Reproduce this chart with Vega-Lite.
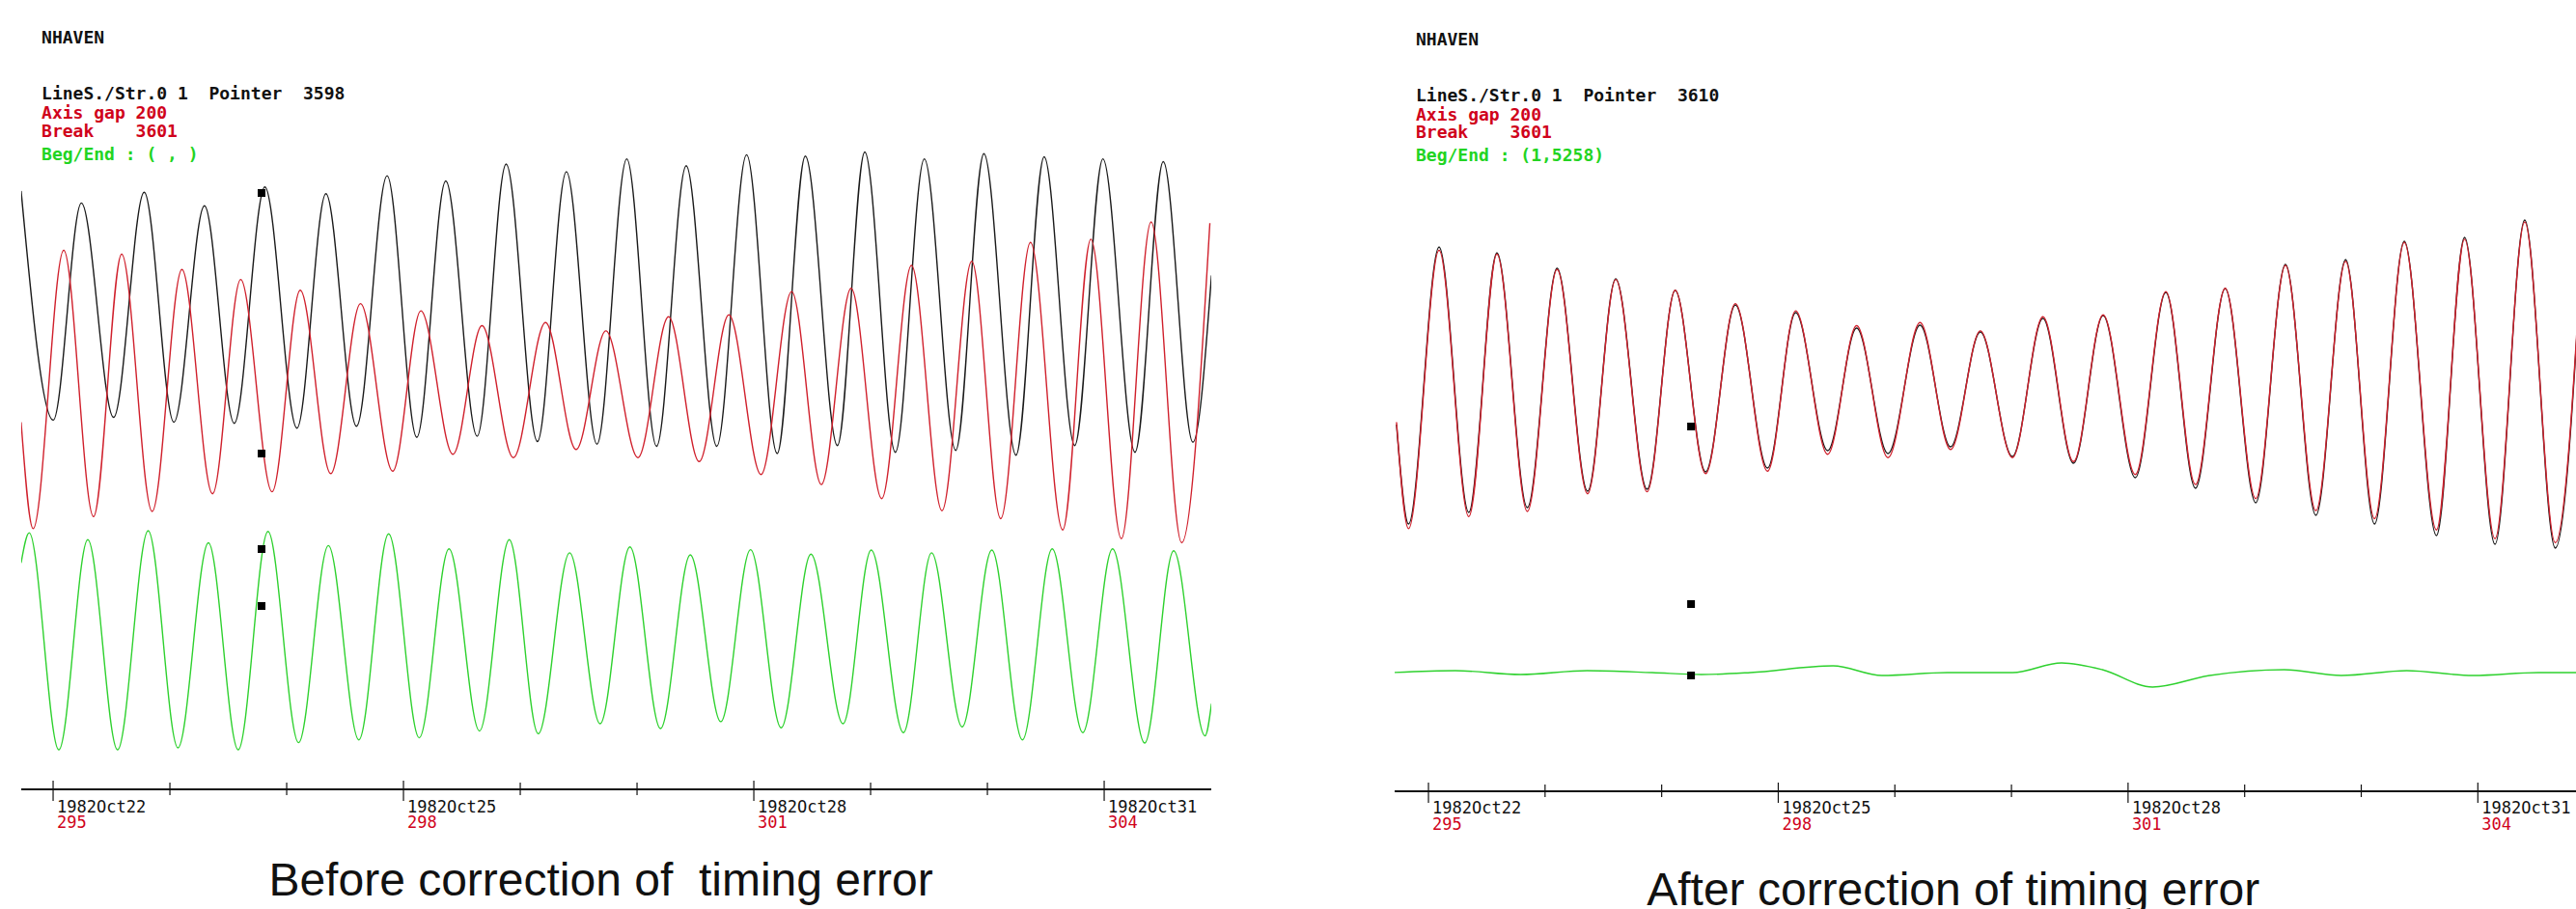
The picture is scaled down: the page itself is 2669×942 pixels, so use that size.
{
  "$schema": "https://vega.github.io/schema/vega-lite/v6.json",
  "padding": {"left": 21, "top": 0, "right": 0, "bottom": 0},
  "bounds": "flush",
  "spacing": 190,
  "background": "white",
  "config": {"view": {"stroke": null}},
  "datasets": {
    "pred": [
      {"d":294.726,"v":62.5},{"d":294.829,"v":-47.9},{"d":295.091,"v":240.8},{"d":295.346,"v":-35.4},{"d":295.587,"v":236.7},{"d":295.848,"v":-30},{"d":296.103,"v":220.8},{"d":296.365,"v":-11.7},{"d":296.606,"v":210.4},{"d":296.875,"v":-9.6},{"d":297.116,"v":199.2},{"d":297.377,"v":9.2},{"d":297.632,"v":185.4},{"d":297.908,"v":11.7},{"d":298.149,"v":177.9},{"d":298.424,"v":29.2},{"d":298.672,"v":162.5},{"d":298.941,"v":25.8},{"d":299.216,"v":165.8},{"d":299.478,"v":34.2},{"d":299.733,"v":157.1},{"d":300.008,"v":25.8},{"d":300.270,"v":171.7},{"d":300.532,"v":21.7},{"d":300.786,"v":173.8},{"d":301.062,"v":8.3},{"d":301.324,"v":197.9},{"d":301.578,"v":-2.1},{"d":301.833,"v":201.3},{"d":302.095,"v":-16.7},{"d":302.350,"v":225},{"d":302.611,"v":-29.2},{"d":302.866,"v":229.2},{"d":303.114,"v":-37.5},{"d":303.369,"v":248.8},{"d":303.645,"v":-49.2},{"d":303.886,"v":252.1},{"d":304.147,"v":-58.3},{"d":304.402,"v":270},{"d":304.664,"v":-62.5},{"d":304.905,"v":268.8}
    ],
    "obsL": [
      {"d":294.726,"v":302.1},{"d":295.001,"v":64.6},{"d":295.242,"v":289.6},{"d":295.518,"v":67.5},{"d":295.780,"v":300.8},{"d":296.034,"v":62.5},{"d":296.296,"v":286.7},{"d":296.551,"v":61.3},{"d":296.813,"v":306.3},{"d":297.088,"v":56.3},{"d":297.336,"v":299.2},{"d":297.598,"v":58.3},{"d":297.860,"v":317.9},{"d":298.114,"v":46.7},{"d":298.362,"v":312.5},{"d":298.631,"v":47.9},{"d":298.879,"v":330},{"d":299.147,"v":42.5},{"d":299.395,"v":322.1},{"d":299.657,"v":39.6},{"d":299.912,"v":335.4},{"d":300.167,"v":37.5},{"d":300.421,"v":328.3},{"d":300.683,"v":37.5},{"d":300.938,"v":339.6},{"d":301.200,"v":30},{"d":301.441,"v":338.3},{"d":301.716,"v":38.3},{"d":301.950,"v":342.5},{"d":302.212,"v":31.3},{"d":302.460,"v":335.4},{"d":302.729,"v":33.3},{"d":302.970,"v":340.8},{"d":303.245,"v":28.3},{"d":303.486,"v":337.5},{"d":303.748,"v":38.3},{"d":303.989,"v":335.4},{"d":304.264,"v":31.3},{"d":304.506,"v":332.5},{"d":304.760,"v":41.7},{"d":304.919,"v":214.6}
    ],
    "resL": [
      {"d":294.726,"v":-83.3},{"d":294.795,"v":-52.1},{"d":295.049,"v":-277.1},{"d":295.297,"v":-59.2},{"d":295.552,"v":-277.1},{"d":295.814,"v":-50},{"d":296.069,"v":-275},{"d":296.330,"v":-62.5},{"d":296.585,"v":-277.1},{"d":296.840,"v":-50.8},{"d":297.102,"v":-269.6},{"d":297.357,"v":-65.4},{"d":297.618,"v":-266.7},{"d":297.873,"v":-53.3},{"d":298.135,"v":-264.6},{"d":298.390,"v":-68.8},{"d":298.651,"v":-257.5},{"d":298.906,"v":-59.2},{"d":299.154,"v":-260.4},{"d":299.423,"v":-72.9},{"d":299.684,"v":-250},{"d":299.939,"v":-66.7},{"d":300.201,"v":-255},{"d":300.456,"v":-75},{"d":300.717,"v":-247.9},{"d":300.972,"v":-69.6},{"d":301.234,"v":-254.2},{"d":301.489,"v":-74.2},{"d":301.764,"v":-250},{"d":302.005,"v":-70},{"d":302.281,"v":-259.2},{"d":302.522,"v":-72.9},{"d":302.784,"v":-253.3},{"d":303.038,"v":-70},{"d":303.300,"v":-266.7},{"d":303.555,"v":-68.8},{"d":303.817,"v":-259.2},{"d":304.072,"v":-68.8},{"d":304.347,"v":-270},{"d":304.595,"v":-70.8},{"d":304.864,"v":-262.5},{"d":304.919,"v":-229.2}
    ],
    "obsR": [
      {"d":294.726,"v":60},{"d":294.829,"v":-43},{"d":295.091,"v":244},{"d":295.346,"v":-31},{"d":295.587,"v":238},{"d":295.848,"v":-26},{"d":296.103,"v":222},{"d":296.365,"v":-9},{"d":296.606,"v":211},{"d":296.875,"v":-7},{"d":297.116,"v":199},{"d":297.377,"v":11},{"d":297.632,"v":184},{"d":297.908,"v":15},{"d":298.149,"v":176},{"d":298.424,"v":33},{"d":298.672,"v":160},{"d":298.941,"v":30},{"d":299.216,"v":163},{"d":299.478,"v":37},{"d":299.733,"v":156},{"d":300.008,"v":27},{"d":300.270,"v":170},{"d":300.532,"v":20},{"d":300.786,"v":173},{"d":301.062,"v":5},{"d":301.324,"v":197},{"d":301.578,"v":-6},{"d":301.833,"v":201},{"d":302.095,"v":-21},{"d":302.350,"v":226},{"d":302.611,"v":-34},{"d":302.866,"v":231},{"d":303.114,"v":-43},{"d":303.369,"v":250},{"d":303.645,"v":-55},{"d":303.886,"v":254},{"d":304.147,"v":-64},{"d":304.402,"v":272},{"d":304.664,"v":-68},{"d":304.905,"v":266}
    ],
    "resR": [
      {"d":294.69,"v":-197},{"d":295.23,"v":-195},{"d":295.79,"v":-199},{"d":296.36,"v":-195},{"d":296.92,"v":-197},{"d":297.34,"v":-199},{"d":297.76,"v":-197},{"d":298.47,"v":-190},{"d":298.89,"v":-200},{"d":299.45,"v":-197},{"d":300.01,"v":-197},{"d":300.43,"v":-187},{"d":300.78,"v":-194},{"d":301.21,"v":-212},{"d":301.70,"v":-200},{"d":302.34,"v":-194},{"d":302.83,"v":-200},{"d":303.39,"v":-195},{"d":303.96,"v":-200},{"d":304.52,"v":-197},{"d":304.85,"v":-197}
    ],
    "sqL": [{"d":296.785,"v":300},{"d":296.785,"v":30},{"d":296.785,"v":-69},{"d":296.785,"v":-128}],
    "sqR": [{"d":297.252,"v":58},{"d":297.252,"v":-126},{"d":297.252,"v":-200}],
    "ticks": [{"day":295,"major":1},{"day":296,"major":0},{"day":297,"major":0},{"day":298,"major":1},{"day":299,"major":0},{"day":300,"major":0},{"day":301,"major":1},{"day":302,"major":0},{"day":303,"major":0},{"day":304,"major":1}],
    "labels": [{"day":295,"date":"1982Oct22","doy":"295"},{"day":298,"date":"1982Oct25","doy":"298"},{"day":301,"date":"1982Oct28","doy":"301"},{"day":304,"date":"1982Oct31","doy":"304"}]
  },
  "hconcat": [
    {
      "width": 1233, "height": 942,
      "layer": [
        {"data": {"name": "obsL"}, "mark": {"type": "line", "color": "#1a1a1a", "strokeWidth": 1.4, "interpolate": "monotone", "clip": true},
         "encoding": {"x": {"field": "d", "type": "quantitative", "scale": {"domain": [294.727, 304.917], "nice": false, "zero": false}, "axis": null},
                      "y": {"field": "v", "type": "quantitative", "scale": {"domain": [-442, 500], "nice": false, "zero": false}, "axis": null}}},
        {"data": {"name": "pred"}, "mark": {"type": "line", "color": "#d0202c", "strokeWidth": 1.4, "interpolate": "monotone", "clip": true},
         "encoding": {"x": {"field": "d", "type": "quantitative"}, "y": {"field": "v", "type": "quantitative"}}},
        {"data": {"name": "resL"}, "mark": {"type": "line", "color": "#2ed12e", "strokeWidth": 1.4, "interpolate": "monotone", "clip": true},
         "encoding": {"x": {"field": "d", "type": "quantitative"}, "y": {"field": "v", "type": "quantitative"}}},
        {"data": {"name": "sqL"}, "mark": {"type": "point", "shape": "square", "filled": true, "size": 64, "color": "#000", "opacity": 1},
         "encoding": {"x": {"field": "d", "type": "quantitative"}, "y": {"field": "v", "type": "quantitative"}}},
        {"data": {"values": [{}]}, "mark": {"type": "rule", "color": "#111", "strokeWidth": 2},
         "encoding": {"x": {"datum": 294.727}, "x2": {"datum": 304.917}, "y": {"datum": -318}}},
        {"data": {"name": "ticks"}, "transform": [{"filter": "datum.major == 1"}], "mark": {"type": "rule", "color": "#111", "strokeWidth": 1.2},
         "encoding": {"x": {"field": "day", "type": "quantitative"}, "y": {"datum": -309}, "y2": {"datum": -330}}},
        {"data": {"name": "ticks"}, "transform": [{"filter": "datum.major == 0"}], "mark": {"type": "rule", "color": "#111", "strokeWidth": 1.2},
         "encoding": {"x": {"field": "day", "type": "quantitative"}, "y": {"datum": -311}, "y2": {"datum": -324}}},
        {"data": {"name": "labels"}, "mark": {"type": "text", "align": "left", "baseline": "alphabetic", "dx": 4, "font": "DejaVu Sans Mono", "fontSize": 17, "color": "#111"},
         "encoding": {"x": {"field": "day", "type": "quantitative"}, "y": {"datum": -342}, "text": {"field": "date"}}},
        {"data": {"name": "labels"}, "mark": {"type": "text", "align": "left", "baseline": "alphabetic", "dx": 4, "font": "DejaVu Sans Mono", "fontSize": 17, "color": "#d0021b"},
         "encoding": {"x": {"field": "day", "type": "quantitative"}, "y": {"datum": -358}, "text": {"field": "doy"}}},
        {"data": {"values": [{"t": "NHAVEN"}]}, "mark": {"type": "text", "align": "left", "baseline": "alphabetic", "font": "DejaVu Sans Mono", "fontWeight": "bold", "fontSize": 18, "color": "#111"},
         "encoding": {"x": {"datum": 294.901}, "y": {"datum": 455}, "text": {"field": "t"}}},
        {"data": {"values": [{"t": "LineS./Str.0 1\u00a0\u00a0Pointer\u00a0\u00a03598"}]}, "mark": {"type": "text", "align": "left", "baseline": "alphabetic", "font": "DejaVu Sans Mono", "fontWeight": "bold", "fontSize": 18, "color": "#111"},
         "encoding": {"x": {"datum": 294.901}, "y": {"datum": 397}, "text": {"field": "t"}}},
        {"data": {"values": [{"t": "Axis gap 200"}]}, "mark": {"type": "text", "align": "left", "baseline": "alphabetic", "font": "DejaVu Sans Mono", "fontWeight": "bold", "fontSize": 18, "color": "#d0021b"},
         "encoding": {"x": {"datum": 294.901}, "y": {"datum": 377}, "text": {"field": "t"}}},
        {"data": {"values": [{"t": "Break\u00a0\u00a0\u00a0\u00a03601"}]}, "mark": {"type": "text", "align": "left", "baseline": "alphabetic", "font": "DejaVu Sans Mono", "fontWeight": "bold", "fontSize": 18, "color": "#d0021b"},
         "encoding": {"x": {"datum": 294.901}, "y": {"datum": 358}, "text": {"field": "t"}}},
        {"data": {"values": [{"t": "Beg/End : ( , )"}]}, "mark": {"type": "text", "align": "left", "baseline": "alphabetic", "font": "DejaVu Sans Mono", "fontWeight": "bold", "fontSize": 18, "color": "#22d422"},
         "encoding": {"x": {"datum": 294.901}, "y": {"datum": 334}, "text": {"field": "t"}}},
        {"data": {"values": [{"t": "Before correction of\u00a0\u00a0timing error"}]}, "mark": {"type": "text", "align": "center", "baseline": "alphabetic", "font": "Liberation Sans", "fontSize": 48, "color": "#111"},
         "encoding": {"x": {"datum": 299.69}, "y": {"datum": -428}, "text": {"field": "t"}}}
      ]
    },
    {
      "width": 1225, "height": 942,
      "layer": [
        {"data": {"name": "obsR"}, "mark": {"type": "line", "color": "#1a1a1a", "strokeWidth": 1.4, "interpolate": "monotone", "clip": true},
         "encoding": {"x": {"field": "d", "type": "quantitative", "scale": {"domain": [294.71, 304.85], "nice": false, "zero": false}, "axis": null},
                      "y": {"field": "v", "type": "quantitative", "scale": {"domain": [-442, 500], "nice": false, "zero": false}, "axis": null}}},
        {"data": {"name": "pred"}, "mark": {"type": "line", "color": "#d0202c", "strokeWidth": 1.4, "interpolate": "monotone", "clip": true},
         "encoding": {"x": {"field": "d", "type": "quantitative"}, "y": {"field": "v", "type": "quantitative"}}},
        {"data": {"name": "resR"}, "mark": {"type": "line", "color": "#2ed12e", "strokeWidth": 1.4, "interpolate": "monotone", "clip": true},
         "encoding": {"x": {"field": "d", "type": "quantitative"}, "y": {"field": "v", "type": "quantitative"}}},
        {"data": {"name": "sqR"}, "mark": {"type": "point", "shape": "square", "filled": true, "size": 64, "color": "#000", "opacity": 1},
         "encoding": {"x": {"field": "d", "type": "quantitative"}, "y": {"field": "v", "type": "quantitative"}}},
        {"data": {"values": [{}]}, "mark": {"type": "rule", "color": "#111", "strokeWidth": 2},
         "encoding": {"x": {"datum": 294.71}, "x2": {"datum": 304.85}, "y": {"datum": -320}}},
        {"data": {"name": "ticks"}, "transform": [{"filter": "datum.major == 1"}], "mark": {"type": "rule", "color": "#111", "strokeWidth": 1.2},
         "encoding": {"x": {"field": "day", "type": "quantitative"}, "y": {"datum": -311}, "y2": {"datum": -332}}},
        {"data": {"name": "ticks"}, "transform": [{"filter": "datum.major == 0"}], "mark": {"type": "rule", "color": "#111", "strokeWidth": 1.2},
         "encoding": {"x": {"field": "day", "type": "quantitative"}, "y": {"datum": -313}, "y2": {"datum": -326}}},
        {"data": {"name": "labels"}, "mark": {"type": "text", "align": "left", "baseline": "alphabetic", "dx": 4, "font": "DejaVu Sans Mono", "fontSize": 17, "color": "#111"},
         "encoding": {"x": {"field": "day", "type": "quantitative"}, "y": {"datum": -343}, "text": {"field": "date"}}},
        {"data": {"name": "labels"}, "mark": {"type": "text", "align": "left", "baseline": "alphabetic", "dx": 4, "font": "DejaVu Sans Mono", "fontSize": 17, "color": "#d0021b"},
         "encoding": {"x": {"field": "day", "type": "quantitative"}, "y": {"datum": -360}, "text": {"field": "doy"}}},
        {"data": {"values": [{"t": "NHAVEN"}]}, "mark": {"type": "text", "align": "left", "baseline": "alphabetic", "font": "DejaVu Sans Mono", "fontWeight": "bold", "fontSize": 18, "color": "#111"},
         "encoding": {"x": {"datum": 294.892}, "y": {"datum": 453}, "text": {"field": "t"}}},
        {"data": {"values": [{"t": "LineS./Str.0 1\u00a0\u00a0Pointer\u00a0\u00a03610"}]}, "mark": {"type": "text", "align": "left", "baseline": "alphabetic", "font": "DejaVu Sans Mono", "fontWeight": "bold", "fontSize": 18, "color": "#111"},
         "encoding": {"x": {"datum": 294.892}, "y": {"datum": 395}, "text": {"field": "t"}}},
        {"data": {"values": [{"t": "Axis gap 200"}]}, "mark": {"type": "text", "align": "left", "baseline": "alphabetic", "font": "DejaVu Sans Mono", "fontWeight": "bold", "fontSize": 18, "color": "#d0021b"},
         "encoding": {"x": {"datum": 294.892}, "y": {"datum": 375}, "text": {"field": "t"}}},
        {"data": {"values": [{"t": "Break\u00a0\u00a0\u00a0\u00a03601"}]}, "mark": {"type": "text", "align": "left", "baseline": "alphabetic", "font": "DejaVu Sans Mono", "fontWeight": "bold", "fontSize": 18, "color": "#d0021b"},
         "encoding": {"x": {"datum": 294.892}, "y": {"datum": 357}, "text": {"field": "t"}}},
        {"data": {"values": [{"t": "Beg/End : (1,5258)"}]}, "mark": {"type": "text", "align": "left", "baseline": "alphabetic", "font": "DejaVu Sans Mono", "fontWeight": "bold", "fontSize": 18, "color": "#22d422"},
         "encoding": {"x": {"datum": 294.892}, "y": {"datum": 333}, "text": {"field": "t"}}},
        {"data": {"values": [{"t": "After correction of timing error"}]}, "mark": {"type": "text", "align": "center", "baseline": "alphabetic", "font": "Liberation Sans", "fontSize": 48, "color": "#111"},
         "encoding": {"x": {"datum": 299.50}, "y": {"datum": -438}, "text": {"field": "t"}}}
      ]
    }
  ]
}
